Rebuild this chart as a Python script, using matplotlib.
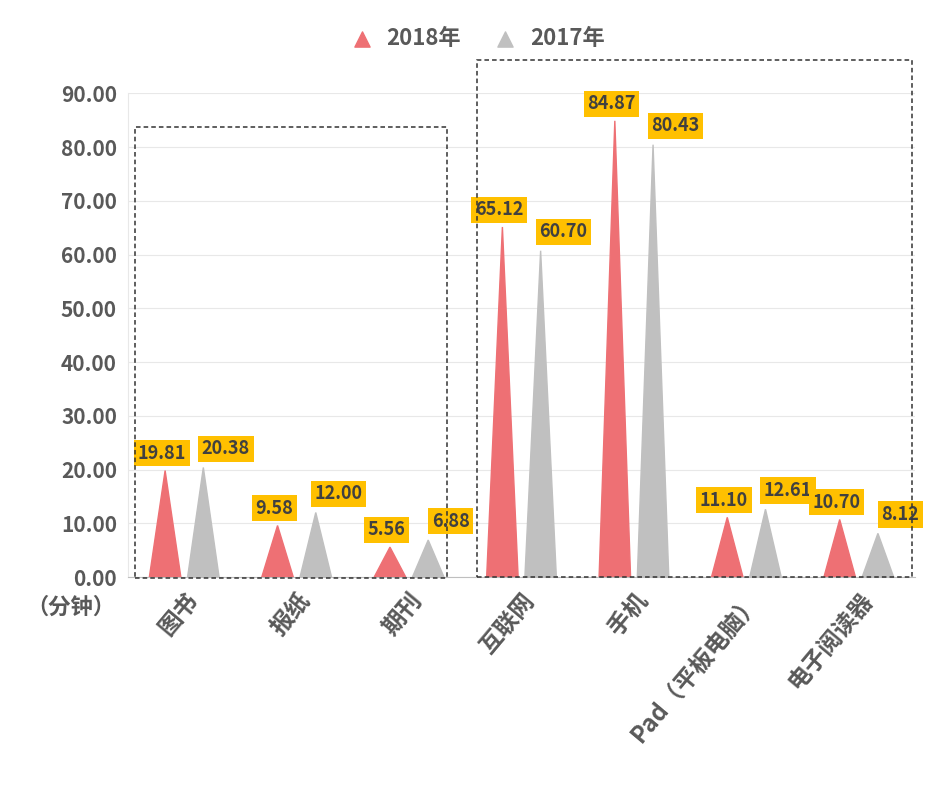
import matplotlib.pyplot as plt
from matplotlib.patches import Rectangle, Polygon

plt.rcParams["font.family"] = ["Noto Sans CJK JP", "Noto Sans CJK SC", "DejaVu Sans"]
plt.rcParams["font.weight"] = "bold"

categories = ["图书", "报纸", "期刊", "互联网", "手机", "Pad（平板电脑）", "电子阅读器"]
v2018 = [19.81, 9.58, 5.56, 65.12, 84.87, 11.10, 10.70]
v2017 = [20.38, 12.00, 6.88, 60.70, 80.43, 12.61, 8.12]
yticks = [0, 10, 20, 30, 40, 50, 60, 70, 80, 90]

c18 = "#EE7074"
c17 = "#C0C0C0"
txt = "#595959"

fig = plt.figure(figsize=(9.44, 7.97), dpi=100)
ax = fig.add_axes([0.1356, 0.276, 0.8337, 0.607])
ax.set_xlim(0, 7)
ax.set_ylim(0, 90)

off = 0.17
hw = 0.14
for i, (a, b) in enumerate(zip(v2018, v2017)):
    x1 = i + 0.5 - off
    x2 = i + 0.5 + off
    ax.add_patch(Polygon([(x1 - hw, 0), (x1, a), (x1 + hw, 0)], color=c18, zorder=3))
    ax.add_patch(Polygon([(x2 - hw, 0), (x2, b), (x2 + hw, 0)], color=c17, zorder=3))
    box = dict(boxstyle="square,pad=0.2", fc="#FFC000", ec="none")
    ax.text(x1 - 0.03, a + 3.2, f"{a:.2f}", ha="center", va="center", fontsize=13,
            color="#404040", bbox=box, zorder=5)
    ax.text(x2 + 0.2, b + 3.5, f"{b:.2f}", ha="center", va="center", fontsize=13,
            color="#404040", bbox=box, zorder=5)

ax.set_yticks(yticks)
ax.set_yticklabels([f"{v:.2f}" for v in yticks], fontsize=15, color=txt)
ax.set_xticks([i + 0.5 for i in range(7)])
ax.set_xticklabels(categories, rotation=50, ha="right", rotation_mode="anchor",
                   fontsize=17, color=txt)
ax.tick_params(length=0, pad=8)
ax.grid(axis="y", color="#E8E8E8", lw=0.8)
ax.set_axisbelow(True)
for s in ["top", "right"]:
    ax.spines[s].set_visible(False)
ax.spines["left"].set_color("#E8E8E8")
ax.spines["bottom"].set_color("#BFBFBF")

fig.text(0.028, 0.238, "（分钟）", fontsize=16, color=txt, ha="left", va="center")

# dashed group boxes
W, H = 944, 797
for (x0, y0, x1, y1) in [(135, 127, 447, 578), (477, 60, 912, 577)]:
    fig.add_artist(Rectangle((x0 / W, 1 - y1 / H), (x1 - x0) / W, (y1 - y0) / H,
                             transform=fig.transFigure, fill=False, ec="#333333",
                             ls=(0, (3, 2)), lw=1.1))

ax.scatter([], [], marker="^", s=120, color=c18, label="2018年")
ax.scatter([], [], marker="^", s=120, color=c17, label="2017年")
fig.legend(loc="center", bbox_to_anchor=(0.5, 0.952), ncol=2, frameon=False,
           prop={"size": 16, "weight": "bold"}, labelcolor=txt,
           handletextpad=0.1, columnspacing=1.0)

fig.savefig("out.png", dpi=100)
